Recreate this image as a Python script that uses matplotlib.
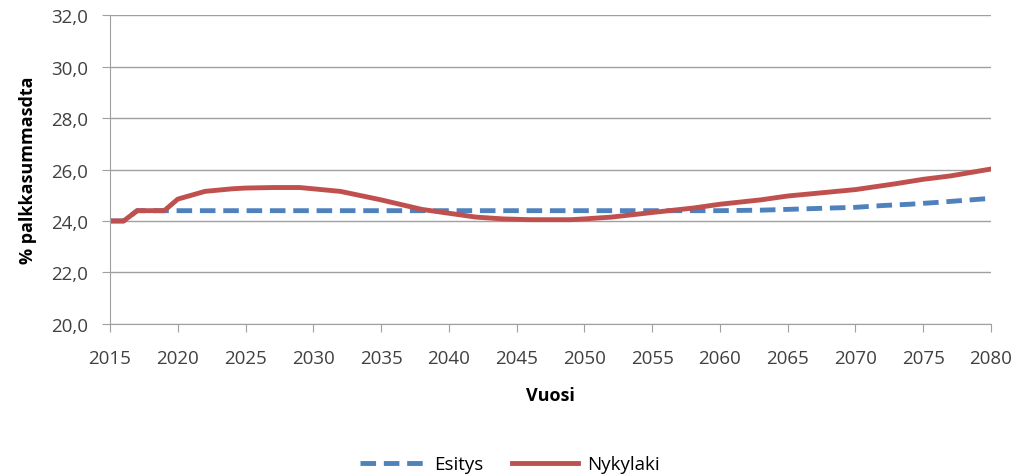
import matplotlib.pyplot as plt
from matplotlib.ticker import FuncFormatter

# Esitys = blue dashed, Nykylaki = red solid
years_esitys = [2015, 2016, 2017, 2018, 2019, 2020, 2030, 2040, 2050, 2060, 2063,
                2065, 2068, 2070, 2072, 2074, 2076, 2078, 2080]
esitys = [24.0, 24.0, 24.4, 24.4, 24.4, 24.4, 24.4, 24.4, 24.4, 24.4, 24.42,
          24.45, 24.5, 24.53, 24.6, 24.65, 24.72, 24.8, 24.88]

years_nykylaki = [2015, 2016, 2017, 2018, 2019, 2020, 2022, 2024, 2025, 2027, 2029,
                  2030, 2032, 2035, 2038, 2040, 2042, 2044, 2046, 2049, 2050,
                  2052, 2055, 2058, 2060, 2063, 2065, 2068, 2070, 2073, 2075,
                  2077, 2080]
nykylaki = [24.0, 24.0, 24.4, 24.4, 24.4, 24.85, 25.15, 25.25, 25.28, 25.3, 25.3,
            25.25, 25.15, 24.82, 24.45, 24.3, 24.15, 24.08, 24.05, 24.05, 24.08,
            24.15, 24.33, 24.5, 24.65, 24.82, 24.97, 25.12, 25.22, 25.45, 25.62,
            25.75, 26.02]

plt.rcParams['font.family'] = ['Open Sans', 'DejaVu Sans']

fig = plt.figure(figsize=(10.19, 4.77), dpi=100)
ax = fig.add_axes([0.108, 0.319, 0.8645, 0.647])

ax.plot(years_esitys, esitys, color='#4f81bd', lw=3.5, ls=(0, (3.2, 1.6)), label='Esitys')
ax.plot(years_nykylaki, nykylaki, color='#c0504d', lw=3.5, label='Nykylaki')

ax.set_xlim(2015, 2080)
ax.set_ylim(20, 32)
ax.set_xticks(range(2015, 2081, 5))
ax.set_yticks(range(20, 33, 2))
ax.yaxis.set_major_formatter(FuncFormatter(lambda v, p: f"{v:.1f}".replace('.', ',')))
ax.grid(axis='y', color='#a0a0a0', lw=1)
ax.set_axisbelow(True)
for s in ['top', 'right']:
    ax.spines[s].set_visible(False)
for s in ['left', 'bottom']:
    ax.spines[s].set_color('#a0a0a0')
ax.tick_params(axis='both', colors='#a0a0a0', labelcolor='#404040', labelsize=13.5, length=6)
ax.tick_params(axis='y', pad=10)
ax.tick_params(axis='x', pad=12)

ax.set_xlabel('Vuosi', fontsize=13, fontweight='bold', labelpad=14)
ax.set_ylabel('% palkkasummasdta', fontsize=13, fontweight='bold', labelpad=10)

fig.legend(loc='lower center', ncol=2, frameon=False, fontsize=13.5,
           bbox_to_anchor=(0.5, -0.03), handlelength=3.5, handletextpad=0.5,
           columnspacing=1.5)

fig.savefig('out.png', dpi=100)
